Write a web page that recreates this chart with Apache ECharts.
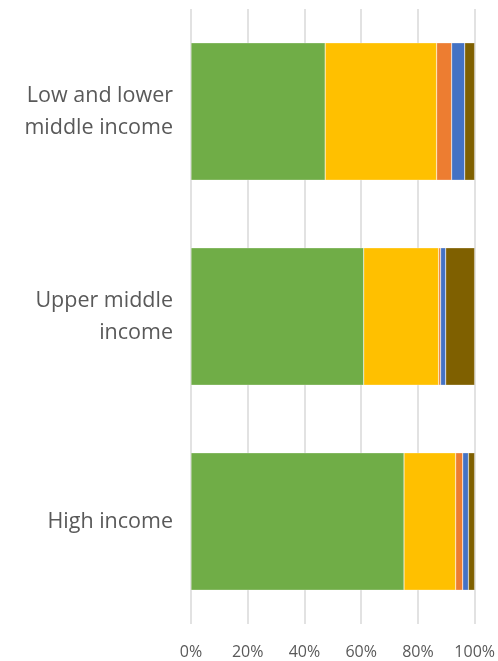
<!DOCTYPE html>
<html>
<head>
<meta charset="utf-8">
<script src="https://cdn.jsdelivr.net/npm/echarts@6/dist/echarts.min.js"></script>
<style>
    html, body { margin: 0; padding: 0; background: #fff; }
    #chart { width: 498px; height: 661px; }
</style>
</head>
<body>
<div id="chart"></div>
<script>
    // income groups, top to bottom
    let categories = ['Low and lower\nmiddle income', 'Upper middle\nincome', 'High income'];
    // shares in %
    let greenVals = [47.3, 60.9, 75.1];
    let yellowVals = [39.3, 26.4, 18.2];
    let orangeVals = [5.3, 0.7, 2.5];
    let blueVals = [4.6, 1.8, 2.0];
    let brownVals = [3.5, 10.2, 2.2];
    let xTicks = [0, 20, 40, 60, 80, 100];

    (function(){
        let myChart = echarts.init(document.getElementById('chart'));

        function seg(name, data, color){
            return {
                name: name,
                type: 'bar',
                stack: 'total',
                barWidth: '67%',
                data: data,
                itemStyle: {
                    color: color,
                    borderColor: 'rgba(255,255,255,0.5)',
                    borderWidth: 0.5
                },
                emphasis: { disabled: true }
            };
        }

        let option = {
            animation: false,
            backgroundColor: '#fff',
            grid: {
                left: 191,
                right: 23,
                top: 9,
                bottom: 37,
                containLabel: false
            },
            xAxis: {
                type: 'value',
                min: xTicks[0],
                max: xTicks[xTicks.length - 1],
                interval: 20,
                axisLine: { show: false },
                axisTick: { show: false },
                splitLine: { show: true, lineStyle: { color: '#d9d9d9', width: 1.5 } },
                axisLabel: {
                    formatter: '{value}%',
                    color: '#595959',
                    fontSize: 16,
                    fontFamily: 'Open Sans',
                    margin: 20
                }
            },
            yAxis: {
                type: 'category',
                inverse: true,
                data: categories,
                axisLine: { show: false },
                axisTick: { show: false },
                axisLabel: {
                    color: '#595959',
                    fontSize: 21.5,
                    lineHeight: 32,
                    fontFamily: 'Open Sans',
                    align: 'right',
                    margin: 18
                }
            },
            series: [
                seg('green', greenVals, '#70AD47'),
                seg('yellow', yellowVals, '#FFC000'),
                seg('orange', orangeVals, '#ED7D31'),
                seg('blue', blueVals, '#4472C4'),
                seg('brown', brownVals, '#7F6000')
            ]
        };

        myChart.setOption(option);
    })();
</script>
</body>
</html>
